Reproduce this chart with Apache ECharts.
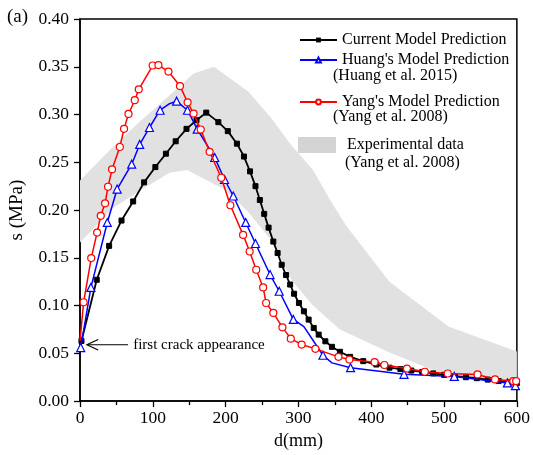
<!DOCTYPE html>
<html><head><meta charset="utf-8">
<script src="https://cdn.jsdelivr.net/npm/echarts@6/dist/echarts.min.js"></script>
<style>html,body{margin:0;padding:0;background:#fff}#c{width:533px;height:455px}</style>
</head><body><div id="c"></div>
<script>
// ---- data (d in mm, s in MPa) ----
const xTickValues = [0, 100, 200, 300, 400, 500, 600];
const yTickValues = [0, 0.05, 0.10, 0.15, 0.20, 0.25, 0.30, 0.35, 0.40];

const currentModel = [
  [2,0.063],[23,0.127],[40,0.1625],[57,0.189],[73,0.209],[88,0.2290],[103.5,0.245],[118,0.259],
  [131.4,0.272],[146.3,0.285],[160,0.294],[173.4,0.302],[190,0.292],[203,0.2826],[215.5,0.2695],
  [225.2,0.256],[233.5,0.2405],[241,0.225],[247,0.2105],[253,0.196],[259,0.1816],[265.5,0.167],
  [271.4,0.155],[277,0.1427],[283,0.132],[288.6,0.122],[294,0.1124],[300.7,0.1027],[307.5,0.094],
  [314,0.0853],[321,0.0766],[327.8,0.0696],[337,0.0626],[346,0.0568],[357,0.0516],[371,0.0463],
  [389,0.0418],[407,0.0383],[425,0.035],[440,0.0335],[455,0.032],[470,0.0305],[485,0.029],
  [500,0.0275],[515,0.026],[530,0.025],[545,0.024],[560,0.0225],[575,0.021],[590,0.0195],[600,0.019]
];
// third column: 1 = marker shown, 0 = plain line vertex
const huangModel = [
  [1,0.056,1],[15,0.119,1],[37.5,0.187,1],[51,0.222,1],[71,0.248,1],[82,0.2687,1],[95.4,0.2864,1],
  [110,0.3045,1],[122,0.311,0],[132.7,0.314,1],[147.6,0.3045,1],[161,0.2847,1],[185,0.255,1],
  [198.5,0.232,1],[210.5,0.2147,1],[227.6,0.187,1],[241,0.165,1],[261,0.1325,1],[273.6,0.115,1],
  [293,0.0855,1],[307.5,0.078,0],[333.7,0.048,1],[346,0.040,0],[371.6,0.035,1],[445,0.028,1],
  [514,0.0258,1],[587,0.019,1],[598,0.0162,1]
];
const yangModel = [
  [0,0.063,0],[5,0.1035,1],[15.4,0.1497,1],[23.5,0.1764,1],[28.5,0.194,1],[34.4,0.207,1],
  [38.5,0.2244,1],[44,0.2426,1],[54.7,0.266,1],[60.5,0.285,1],[66.6,0.3006,1],[75.2,0.315,1],
  [80.7,0.3264,1],[99.8,0.3513,1],[107.7,0.3518,1],[121.5,0.345,1],[137.3,0.3298,1],[147.8,0.3128,1],
  [156,0.301,1],[165.8,0.2843,1],[178,0.261,1],[194,0.2338,1],[206.5,0.205,1],[224,0.174,1],
  [233,0.1566,1],[242,0.1375,1],[251.5,0.119,1],[255.6,0.1027,1],[265.5,0.0923,1],[278,0.0772,1],
  [289.5,0.0654,1],[304.4,0.0592,1],[323.3,0.0547,1],[355,0.0463,1],[370,0.0435,1],[404.6,0.0407,1],
  [418,0.0378,1],[449,0.0341,1],[473.6,0.0307,1],[505,0.0289,1],[546,0.0279,1],[570,0.0227,1],
  [595,0.021,1],[599,0.021,1]
];
const expUpper = [
  [0,0.231],[40,0.262],[80,0.291],[120,0.318],[156,0.343],[184,0.350],[231,0.324],[262,0.297],
  [290,0.268],[320,0.242],[344,0.210],[366,0.183],[425,0.125],[506,0.078],[600,0.052]
];
const expLower = [
  [0,0.166],[45,0.202],[86,0.222],[123,0.239],[147,0.242],[172,0.232],[200,0.221],[231,0.198],
  [265,0.166],[291,0.126],[320,0.100],[357,0.075],[425,0.051],[506,0.026],[600,0.020]
];

const names = ['Current Model Prediction', "Huang's Model Prediction", "Yang's Model Prediction", 'Experimental data'];
const subNames = ['(Huang et al. 2015)', '(Yang et al. 2008)', '(Yang et al. 2008)'];
const annotation = 'first crack appearance';

const FONT = '"Liberation Serif", "Times New Roman", serif';
const chart = echarts.init(document.getElementById('c'), null, {renderer: 'canvas'});

function marked(arr, sym) {
  return arr.map(p => ({value: [p[0], p[1]], symbol: p[2] ? sym : 'none'}));
}

function legendBox(name, top, extra) {
  return Object.assign({
    data: [name], orient: 'vertical', left: 299, top: top, padding: 0,
    itemWidth: 37, itemHeight: 6, selectedMode: false,
    textStyle: {fontFamily: FONT, fontSize: 16, color: '#000'}
  }, extra || {});
}

chart.setOption({
  animation: false,
  backgroundColor: '#fff',
  grid: {left: 76, right: 14, top: 19, bottom: 53, show: true, borderColor: '#000', borderWidth: 1.5, backgroundColor: 'transparent'},
  xAxis: {
    type: 'value', min: 0, max: 600, interval: 100,
    name: 'd(mm)', nameLocation: 'middle', nameGap: 25,
    nameTextStyle: {fontFamily: FONT, fontSize: 18, color: '#000'},
    axisLine: {show: true, lineStyle: {color: '#000', width: 1.5}},
    axisTick: {show: true, inside: false, length: 6, lineStyle: {color: '#000', width: 1.3}},
    minorTick: {show: true, splitNumber: 2, length: 4, lineStyle: {color: '#000', width: 1.3}},
    axisLabel: {fontFamily: FONT, fontSize: 17.5, color: '#000', margin: 8,
      customValues: xTickValues},
    splitLine: {show: false}
  },
  yAxis: {
    type: 'value', min: 0, max: 0.4, interval: 0.05,
    name: 's (MPa)', nameLocation: 'middle', nameGap: 53, nameRotate: 90,
    nameTextStyle: {fontFamily: FONT, fontSize: 19, color: '#000'},
    axisLine: {show: true, lineStyle: {color: '#000', width: 1.5}},
    axisTick: {show: true, inside: false, length: 6, lineStyle: {color: '#000', width: 1.3}},
    axisLabel: {fontFamily: FONT, fontSize: 17.5, color: '#000', margin: 11,
      formatter: v => v.toFixed(2)},
    splitLine: {show: false}
  },
  legend: [
    legendBox(names[0], 32),
    legendBox(names[1], 52),
    legendBox(names[2], 94),
    legendBox(names[3], 137, {left: 298, itemWidth: 38, itemHeight: 16,
      data: [{name: names[3], icon: 'rect', itemStyle: {color: '#d4d4d4'}}],
      textStyle: {fontFamily: FONT, fontSize: 16, color: '#000', padding: [0, 0, 0, 6]}})
  ],
  series: [
    {
      name: names[3], type: 'custom', z: 1, silent: true,
      data: [[0, 0]],
      renderItem: function (params, api) {
        const pts = expUpper.map(p => api.coord(p))
          .concat(expLower.slice().reverse().map(p => api.coord(p)));
        return {type: 'polygon', shape: {points: pts}, style: {fill: '#e1e1e1'}};
      },
      itemStyle: {color: '#d4d4d4'}
    },
    {
      name: names[0], type: 'line', z: 3, data: currentModel,
      symbol: 'rect', symbolSize: 5, showAllSymbol: true,
      lineStyle: {color: '#000', width: 1.8},
      itemStyle: {color: '#000', borderColor: '#000'}
    },
    {
      name: names[1], type: 'line', z: 4, data: marked(huangModel, 'triangle'),
      symbol: 'triangle', symbolSize: 8, showAllSymbol: true,
      lineStyle: {color: '#0000ff', width: 1.5},
      itemStyle: {color: '#fff', borderColor: '#0000ff', borderWidth: 1.2}
    },
    {
      name: names[2], type: 'line', z: 5, data: marked(yangModel, 'circle'),
      symbol: 'circle', symbolSize: 7, showAllSymbol: true,
      lineStyle: {color: '#ff0000', width: 1.5},
      itemStyle: {color: '#fff', borderColor: '#ff0000', borderWidth: 1.2}
    }
  ]
});

// annotation + legend sub-lines
const P = v => chart.convertToPixel({gridIndex: 0}, v);
const tip = P([9.5, 0.059]), tail = P([66, 0.059]), armU = P([25, 0.0645]), armD = P([25, 0.0535]), txt = P([73, 0.059]);
chart.setOption({
  graphic: [
    {type: 'text', left: 7, top: 8, style: {text: '(a)', font: '19px ' + FONT, fill: '#000'}},
    {type: 'text', x: 333, y: 76, style: {text: subNames[0], font: '16px ' + FONT, fill: '#000', verticalAlign: 'middle'}},
    {type: 'text', x: 333, y: 117, style: {text: subNames[1], font: '16px ' + FONT, fill: '#000', verticalAlign: 'middle'}},
    {type: 'text', x: 345, y: 163, style: {text: subNames[2], font: '16px ' + FONT, fill: '#000', verticalAlign: 'middle'}},
    {type: 'polyline', z: 10, shape: {points: [tail, tip]}, style: {stroke: '#000', lineWidth: 1.2, fill: null}},
    {type: 'polyline', z: 10, shape: {points: [armU, tip, armD]}, style: {stroke: '#000', lineWidth: 1.2, fill: null}},
    {type: 'text', z: 10, x: txt[0], y: txt[1], style: {text: annotation, font: '15px ' + FONT, fill: '#000', verticalAlign: 'middle'}}
  ]
});
</script></body></html>
